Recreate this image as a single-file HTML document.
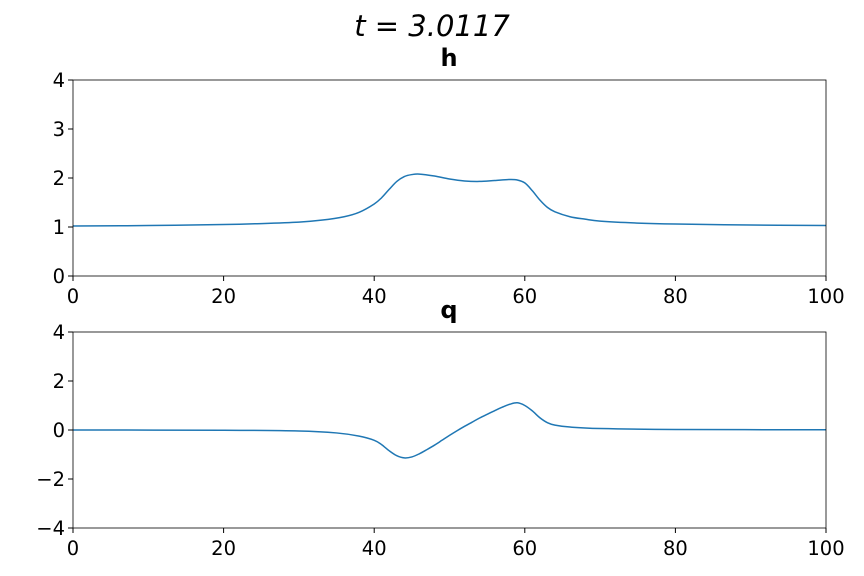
<!DOCTYPE html>
<html><head><meta charset="utf-8"><style>body{margin:0;background:#fff}svg{display:block;font-family:"DejaVu Sans","Liberation Sans",sans-serif}</style></head>
<body>
<svg id="c" width="864" height="576">
<rect width="864" height="576" fill="#fff"/>
<text x="432" y="36" text-anchor="middle" font-size="29" font-style="italic">t = 3.0117</text>
</svg>
<script>
const xsH=[0,10,20,25,30,33,36,38,40,41,42,43,44,45,46,48,50,52,54,56,58,59,60,61,62,63,64,66,68,70,75,80,90,100];
const hVals=[1.02,1.03,1.05,1.07,1.1,1.14,1.21,1.3,1.47,1.6,1.77,1.93,2.03,2.07,2.08,2.04,1.98,1.94,1.93,1.95,1.97,1.96,1.9,1.74,1.55,1.4,1.31,1.21,1.16,1.12,1.08,1.06,1.04,1.03];
const xsQ=[0,20,30,35,38,40,41,42,43,44,45,46,47,48,49,50,51,52,53,54,55,56,57,58,59,60,61,62,63,64,66,70,80,100];
const qVals=[0,-0.01,-0.04,-0.12,-0.25,-0.42,-0.6,-0.85,-1.05,-1.14,-1.1,-0.97,-0.8,-0.62,-0.42,-0.22,-0.03,0.15,0.32,0.49,0.64,0.79,0.93,1.05,1.11,1.0,0.78,0.5,0.3,0.2,0.12,0.06,0.02,0.01];
const xTicks=[0,20,40,60,80,100];
const hTicks=[0,1,2,3,4];
const qTicks=[-4,-2,0,2,4];
const NS="http://www.w3.org/2000/svg";
const svg=document.getElementById('c');
function el(t,a,txt){const e=document.createElementNS(NS,t);for(const k in a)e.setAttribute(k,a[k]);if(txt!==undefined)e.textContent=txt;svg.appendChild(e);return e;}
function smooth(pts){let d='M'+pts[0][0]+','+pts[0][1];for(let i=0;i<pts.length-1;i++){const p0=pts[Math.max(0,i-1)],p1=pts[i],p2=pts[i+1],p3=pts[Math.min(pts.length-1,i+2)];const c1x=p1[0]+(p2[0]-p0[0])/6,c1y=p1[1]+(p2[1]-p0[1])/6,c2x=p2[0]-(p3[0]-p1[0])/6,c2y=p2[1]-(p3[1]-p1[1])/6;d+=' C'+c1x+','+c1y+' '+c2x+','+c2y+' '+p2[0]+','+p2[1];}return d;}
function panel(top,ymin,ymax,yt,xs,ys,title,nm){
 const L=73,R=826,B=top+196;
 const sx=v=>L+(v/100)*(R-L), sy=v=>B-(v-ymin)/(ymax-ymin)*196;
 const t=el('text',{x:449,y:top-14,'text-anchor':'middle','font-size':24,'font-weight':'bold'},title);
 
 
 xTicks.forEach(v=>{const l=el('line',{x1:sx(v),x2:sx(v),y1:B,y2:B+5,stroke:'#000'});
  
  
  const tx=el('text',{x:sx(v),y:B+27,'text-anchor':'middle','font-size':19.5},v);
  
  });
 yt.forEach(v=>{const l=el('line',{x1:L-5,x2:L,y1:sy(v),y2:sy(v),stroke:'#000'});
  
  
  const tx=el('text',{x:L-8,y:sy(v)+7,'text-anchor':'end','font-size':19.5},v<0?'\u2212'+(-v):v);
  
  });
 const p=el('path',{d:smooth(xs.map((x,i)=>[sx(x),sy(ys[i])])),fill:'none',stroke:'#1f77b4','stroke-width':1.5,'stroke-linejoin':'round'});
 
 
 const f=el('rect',{x:L,y:top,width:R-L,height:196,fill:'none',stroke:'#000','stroke-width':0.8});
 
 
}
panel(80,0,4,hTicks,xsH,hVals,'h','h');
panel(332,-4,4,qTicks,xsQ,qVals,'q','q');
</script>
</body></html>
